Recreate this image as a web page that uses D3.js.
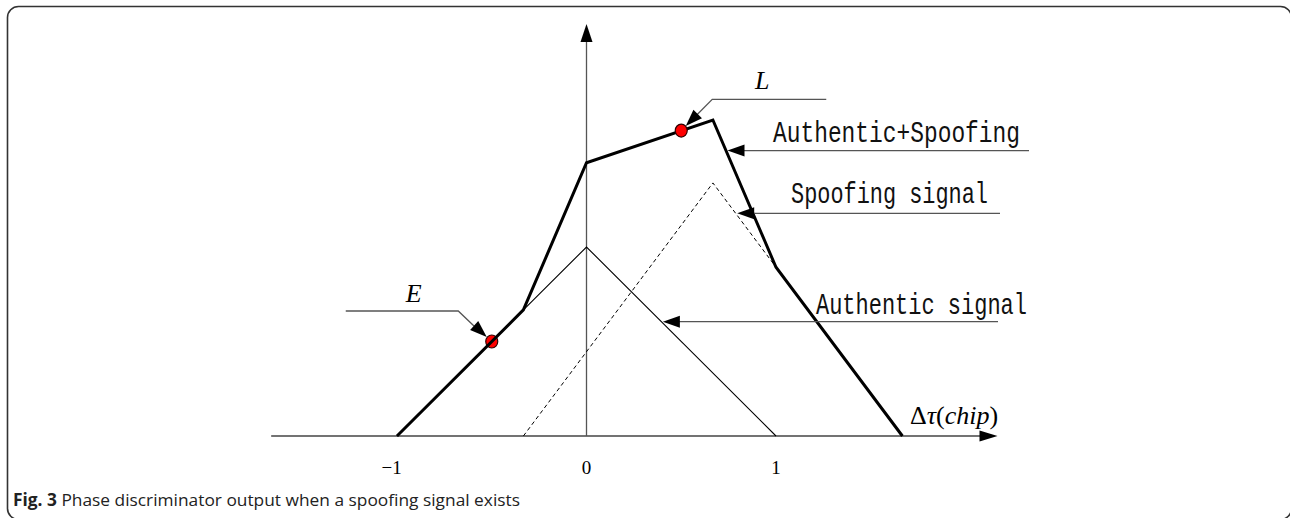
<!DOCTYPE html>
<html>
<head>
<meta charset="utf-8">
<script src="https://cdn.jsdelivr.net/npm/d3@7"></script>
<style>
  html, body { margin: 0; padding: 0; background: #fff; }
  svg { display: block; }
</style>
</head>
<body>
<script>
// phase discriminator output, authentic + spoofing correlation triangles

// data (x in chips, y in units of the authentic peak)
var authentic = [[-1, 0], [0, 1], [1, 0]];
var spoofing = [[-0.333, 0], [0.667, 1.339], [1.667, 0]];
var combined = [[-1, 0], [-0.333, 0.667], [0, 1.446], [0.667, 1.672], [1, 0.893], [1.667, 0]];
var samplePoints = [[-0.5, 0.5], [0.5, 1.616]]; // E, L
var sampleNames = ['E', 'L'];
var tickValues = [-1, 0, 1];
var tickLabels = ['\u22121', '0', '1'];
var seriesLabels = ['Authentic+Spoofing', 'Spoofing signal', 'Authentic signal'];
var caption = 'Phase discriminator output when a spoofing signal exists';

var width = 1290;
var height = 518;

var svg = d3.select('body')
  .append('svg')
  .attr('width', width)
  .attr('height', height);

var x = d3.scaleLinear().domain([-1, 1]).range([397, 776]);
var y = d3.scaleLinear().domain([0, 1]).range([436, 247]);

// frame (right and bottom edges run off the page)
svg.append('rect')
  .attr('x', 7.5).attr('y', 6.5)
  .attr('width', 1284).attr('height', 513)
  .attr('rx', 11).attr('ry', 11)
  .attr('fill', 'none')
  .attr('stroke', '#333')
  .attr('stroke-width', 1.6);

// arrow head helper: tip point + direction it points to
var arrowHead = function(tx, ty, dx, dy, len, half) {
  var n = Math.sqrt(dx * dx + dy * dy);
  var ux = dx / n, uy = dy / n;
  var bx = tx - ux * len, by = ty - uy * len;
  var p = d3.path();
  p.moveTo(tx, ty);
  p.lineTo(bx - uy * half, by + ux * half);
  p.lineTo(bx + uy * half, by - ux * half);
  p.closePath();
  svg.append('path').attr('d', p.toString()).attr('fill', '#000');
};

// axes
svg.append('line')
  .attr('x1', x(-1.664)).attr('x2', x(2.08))
  .attr('y1', y(0)).attr('y2', y(0))
  .attr('stroke', '#444').attr('stroke-width', 1.4);
arrowHead(x(2.169), y(0), 1, 0, 18, 5.5);

svg.append('line')
  .attr('x1', x(0)).attr('x2', x(0))
  .attr('y1', y(0)).attr('y2', y(2.1))
  .attr('stroke', '#555').attr('stroke-width', 1.3);
arrowHead(x(0), y(2.18), 0, -1, 18, 6);

svg.selectAll('text.tick')
  .data(tickValues)
  .enter()
  .append('text')
  .attr('class', 'tick')
  .attr('x', function(d) { return x(d) + 4.8; })
  .attr('y', 474)
  .attr('text-anchor', 'end')
  .attr('font-family', 'Liberation Serif, serif')
  .attr('font-size', 19)
  .attr('fill', '#000')
  .text(function(d, i) { return tickLabels[i]; });

// axis title  Δτ(chip)
var t = svg.append('text')
  .attr('x', 910).attr('y', 424)
  .attr('font-family', 'Liberation Serif, serif')
  .attr('font-size', 26)
  .attr('fill', '#000');
t.append('tspan').text('\u0394');
t.append('tspan').attr('font-style', 'italic').text('\u03c4');
t.append('tspan').text('(');
t.append('tspan').attr('font-style', 'italic').text('chip');
t.append('tspan').text(')');

// lines
var line = d3.line()
  .x(function(d) { return x(d[0]); })
  .y(function(d) { return y(d[1]); });

svg.append('path').datum(authentic)
  .attr('d', line)
  .attr('fill', 'none').attr('stroke', '#000').attr('stroke-width', 1.1);

svg.append('path').datum(spoofing)
  .attr('d', line)
  .attr('fill', 'none').attr('stroke', '#000').attr('stroke-width', 1)
  .attr('stroke-dasharray', '4,3');

svg.append('ellipse')
  .datum(samplePoints[0])
  .attr('cx', function(d) { return x(d[0]); })
  .attr('cy', function(d) { return y(d[1]); })
  .attr('rx', 6).attr('ry', 6.5)
  .attr('fill', '#f00').attr('stroke', '#300').attr('stroke-width', 1.2);

svg.append('path').datum(combined)
  .attr('d', line)
  .attr('fill', 'none').attr('stroke', '#000').attr('stroke-width', 3)
  .attr('stroke-linejoin', 'miter');

svg.append('ellipse')
  .datum(samplePoints[1])
  .attr('cx', function(d) { return x(d[0]); })
  .attr('cy', function(d) { return y(d[1]); })
  .attr('rx', 6).attr('ry', 6.5)
  .attr('fill', '#f00').attr('stroke', '#300').attr('stroke-width', 1.2);

// leader lines for E and L
var leaderStroke = function(pts) {
  svg.append('path')
    .attr('d', d3.line()(pts))
    .attr('fill', 'none').attr('stroke', '#555').attr('stroke-width', 1.3);
};

var ex = x(samplePoints[0][0]), ey = y(samplePoints[0][1]);
leaderStroke([[ex - 146, ey - 30.5], [ex - 33.5, ey - 30.5], [ex - 12, ey - 10]]);
arrowHead(ex - 5, ey - 4.5, 33.5, 30.5, 17, 6);

var lx = x(samplePoints[1][0]), ly = y(samplePoints[1][1]);
leaderStroke([[lx + 145, ly - 31.3], [lx + 31, ly - 31.3], [lx + 12, ly - 12]]);
arrowHead(lx + 4.5, ly - 4.5, -31, 31.3, 17, 6);

svg.selectAll('text.sample')
  .data(sampleNames)
  .enter()
  .append('text')
  .attr('class', 'sample')
  .attr('x', function(d, i) { return i === 0 ? ex - 78 : lx + 81; })
  .attr('y', function(d, i) { return i === 0 ? ey - 39.5 : ly - 41.5; })
  .attr('text-anchor', 'middle')
  .attr('font-family', 'Liberation Serif, serif')
  .attr('font-style', 'italic')
  .attr('font-size', 26)
  .attr('fill', '#000')
  .text(function(d) { return d; });

// x on the falling edge of a series at a given level
var fallAt = function(series, level) {
  for (var i = 1; i < series.length; i++) {
    var a = series[i - 1], b = series[i];
    if (a[1] >= level && b[1] <= level && b[0] > a[0] && a[1] > b[1]) {
      return a[0] + (a[1] - level) / (a[1] - b[1]) * (b[0] - a[0]);
    }
  }
  return 0;
};

// series labels with arrows pointing at each line
var labelSeries = [combined, spoofing, authentic];
var labelLevels = [1.51, 1.178, 0.605];
var labelStart = [773, 791, 816];
var labelEnd = [1029, 1000, 998];
var labelLen = [247, 197, 211];
var labelGap = [8.5, 10.6, 7.7];

seriesLabels.forEach(function(name, i) {
  var ly2 = y(labelLevels[i]);
  var tx = x(fallAt(labelSeries[i], labelLevels[i])) + 1.5;
  svg.append('line')
    .attr('x1', tx + 14).attr('x2', labelEnd[i])
    .attr('y1', ly2).attr('y2', ly2)
    .attr('stroke', '#555').attr('stroke-width', 1.3);
  arrowHead(tx, ly2, -1, 0, 17, 6);
  svg.append('text')
    .attr('x', labelStart[i])
    .attr('y', ly2 - labelGap[i])
    .attr('font-family', 'Liberation Mono, monospace')
    .attr('font-size', 29)
    .attr('textLength', labelLen[i])
    .attr('lengthAdjust', 'spacingAndGlyphs')
    .attr('fill', '#111')
    .text(name);
});

// caption
var c = svg.append('text')
  .attr('x', 13).attr('y', 506)
  .attr('font-family', 'Open Sans, sans-serif')
  .attr('font-size', 17)
  .attr('textLength', 507)
  .attr('lengthAdjust', 'spacingAndGlyphs')
  .attr('fill', '#222');
c.append('tspan').attr('font-weight', 'bold').text('Fig. 3');
c.append('tspan').text(' ' + caption);
</script>
</body>
</html>
